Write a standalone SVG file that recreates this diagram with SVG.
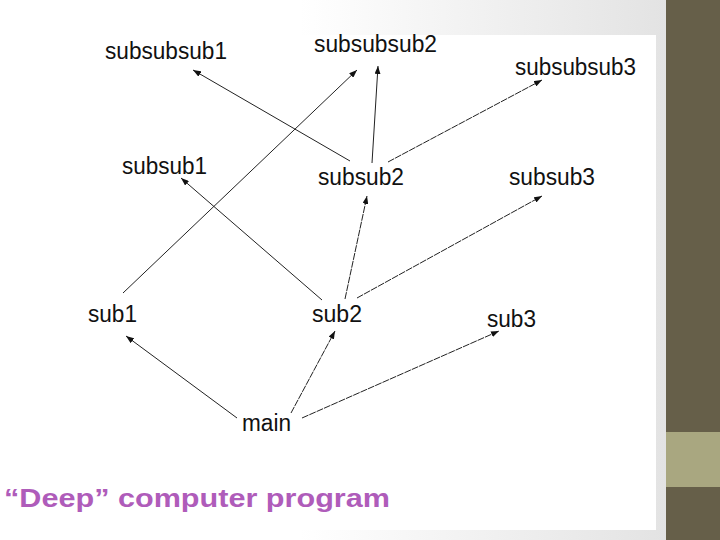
<svg xmlns="http://www.w3.org/2000/svg" width="720" height="540" viewBox="0 0 720 540">
<style>
.n{font-family:"Liberation Sans",Arial,sans-serif;font-size:23px;fill:#111}
.c line{stroke:#222;stroke-width:1}
.d{stroke-dasharray:7 1}
.t{font-family:"Liberation Sans",Arial,sans-serif;font-size:26px;font-weight:bold;fill:#af5cba}
</style>
<defs>
<linearGradient id="bg" x1="0" y1="0" x2="666" y2="0" gradientUnits="userSpaceOnUse">
<stop offset="0.45" stop-color="#ffffff"/>
<stop offset="1" stop-color="#e3e3e3"/>
</linearGradient>
<marker id="ah" markerWidth="8" markerHeight="6" refX="8" refY="3" orient="auto" markerUnits="userSpaceOnUse">
<path d="M0,0 L8,3 L0,6 z" fill="#111"/>
</marker>
</defs>
<rect x="0" y="0" width="720" height="540" fill="url(#bg)"/>
<rect x="0" y="35" width="656" height="495" fill="#ffffff"/>
<rect x="666" y="0" width="54" height="540" fill="#665f49"/>
<rect x="666" y="432" width="54" height="55" fill="#a9a780"/>

<g class="c" id="connectors">
<line x1="350" y1="161" x2="193" y2="70" marker-end="url(#ah)"/>
<line x1="123" y1="293" x2="357" y2="70" marker-end="url(#ah)"/>
<line x1="372" y1="163" x2="378" y2="66" marker-end="url(#ah)"/>
<line class="d" x1="388" y1="162" x2="542" y2="80" marker-end="url(#ah)"/>
<line x1="322" y1="300" x2="181" y2="178" marker-end="url(#ah)"/>
<line class="d" x1="345" y1="299" x2="367" y2="196" marker-end="url(#ah)"/>
<line class="d" x1="357" y1="298" x2="542" y2="196" marker-end="url(#ah)"/>
<line x1="237" y1="418" x2="126" y2="336" marker-end="url(#ah)"/>
<line class="d" x1="291" y1="413" x2="335" y2="331" marker-end="url(#ah)"/>
<line class="d" x1="302" y1="418" x2="499" y2="331" marker-end="url(#ah)"/>
</g>

<g id="subsubsub1"><text class="n" x="105" y="59" textLength="122" lengthAdjust="spacingAndGlyphs">subsubsub1</text></g>
<g id="subsubsub2"><text class="n" x="314" y="52" textLength="123" lengthAdjust="spacingAndGlyphs">subsubsub2</text></g>
<g id="subsubsub3"><text class="n" x="515" y="75" textLength="121" lengthAdjust="spacingAndGlyphs">subsubsub3</text></g>
<g id="subsub1"><text class="n" x="122" y="174" textLength="85" lengthAdjust="spacingAndGlyphs">subsub1</text></g>
<g id="subsub2"><text class="n" x="318" y="185" textLength="86" lengthAdjust="spacingAndGlyphs">subsub2</text></g>
<g id="subsub3"><text class="n" x="509" y="185" textLength="86" lengthAdjust="spacingAndGlyphs">subsub3</text></g>
<g id="sub1"><text class="n" x="88" y="322" textLength="49" lengthAdjust="spacingAndGlyphs">sub1</text></g>
<g id="sub2"><text class="n" x="312" y="322" textLength="50" lengthAdjust="spacingAndGlyphs">sub2</text></g>
<g id="sub3"><text class="n" x="487" y="327" textLength="49" lengthAdjust="spacingAndGlyphs">sub3</text></g>
<g id="main"><text class="n" x="242" y="431" textLength="49" lengthAdjust="spacingAndGlyphs">main</text></g>

<text class="t" x="4" y="507" textLength="386" lengthAdjust="spacingAndGlyphs">“Deep” computer program</text>
</svg>
